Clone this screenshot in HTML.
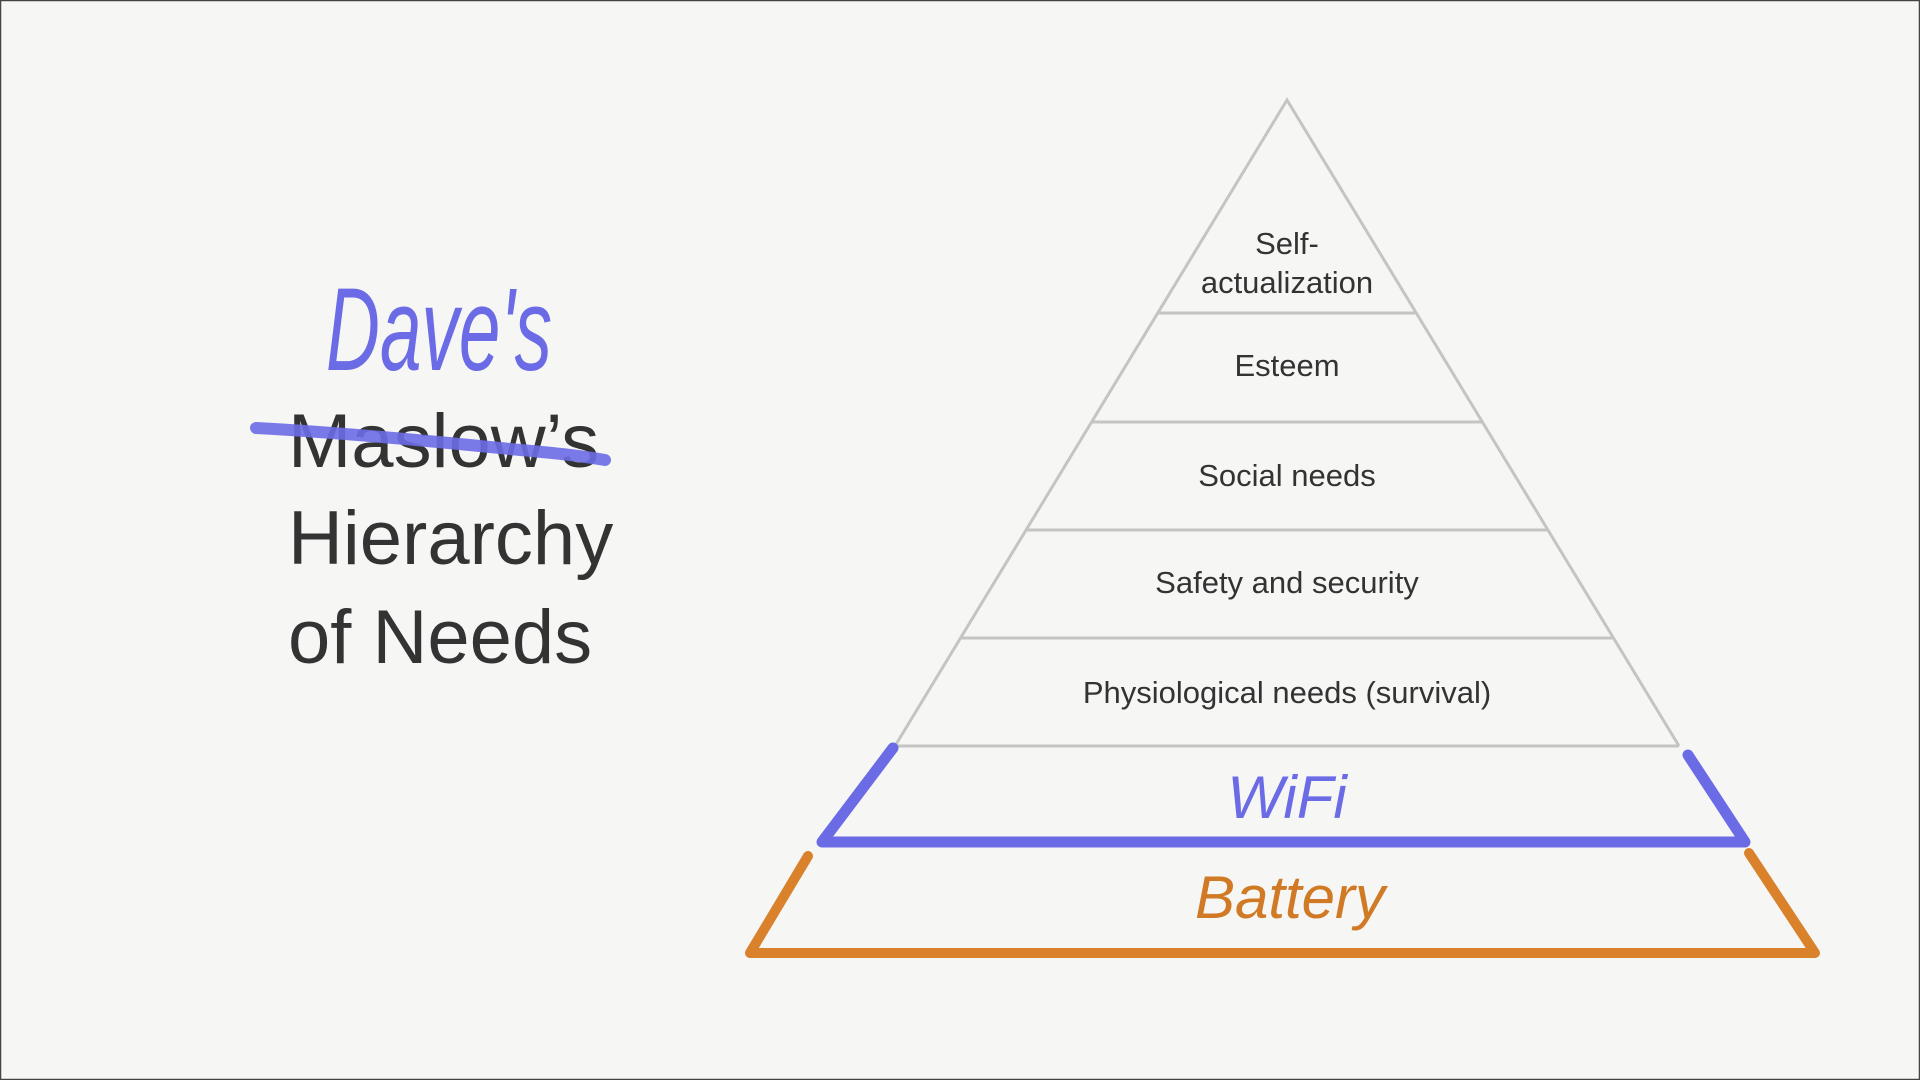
<!DOCTYPE html>
<html><head><meta charset="utf-8"><style>
html,body{margin:0;padding:0;background:#f6f7f5;}
svg{display:block}
</style></head><body>
<svg width="1920" height="1080" viewBox="0 0 1920 1080" xmlns="http://www.w3.org/2000/svg">
<rect x="0" y="0" width="1920" height="1080" fill="#f6f7f5"/>
<rect x="0.5" y="0.5" width="1919" height="1079" fill="none" stroke="#444" stroke-width="1.5"/>
<g stroke="#c4c4c4" stroke-width="3" fill="none">
<polyline points="895,746 1287,100 1679,746"/>
<line x1="1158" y1="313" x2="1417" y2="313"/>
<line x1="1092" y1="422" x2="1483" y2="422"/>
<line x1="1027" y1="530" x2="1548" y2="530"/>
<line x1="961" y1="638" x2="1613" y2="638"/>
<line x1="895" y1="746" x2="1679" y2="746"/>
</g>
<g font-family="Liberation Sans, sans-serif" font-size="31" fill="#333" text-anchor="middle">
<text x="1287" y="254">Self-</text>
<text x="1287" y="293">actualization</text>
<text x="1287" y="376">Esteem</text>
<text x="1287" y="486">Social needs</text>
<text x="1287" y="593">Safety and security</text>
<text x="1287" y="703">Physiological needs (survival)</text>
</g>
<polyline points="893,748 822,842 1745,842 1688,755" fill="none" stroke="#6b6be6" stroke-width="11" stroke-linejoin="round" stroke-linecap="round"/>
<text x="1287" y="818" text-anchor="middle" font-family="Liberation Sans, sans-serif" font-size="60" fill="#6b6be6" font-style="italic">WiFi</text>
<polyline points="808,856 750,953 1815,953 1749,853" fill="none" stroke="#d9822b" stroke-width="10" stroke-linejoin="round" stroke-linecap="round"/>
<text x="1290" y="918" text-anchor="middle" font-family="Liberation Sans, sans-serif" font-size="60" fill="#d07a26" font-style="italic">Battery</text>
<text x="326" y="370" font-family="Liberation Sans, sans-serif" font-size="118" fill="#6b6be6" font-style="italic" textLength="226" lengthAdjust="spacingAndGlyphs">Dave's</text>
<g font-family="Liberation Sans, sans-serif" font-size="76" fill="#333">
<text x="288" y="467">Maslow’s</text>
<text x="288" y="564">Hierarchy</text>
<text x="288" y="663">of Needs</text>
</g>
<path d="M256,428 C330,432 420,440 500,448 C540,452 570,454 605,460" stroke="#6b6be6" stroke-width="12" fill="none" stroke-linecap="round" opacity="0.9"/>
</svg>
</body></html>
